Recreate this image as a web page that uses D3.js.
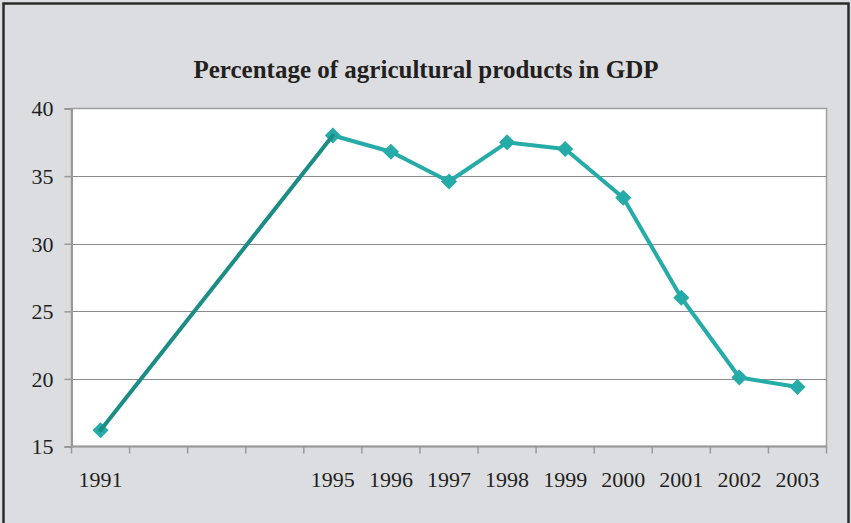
<!DOCTYPE html>
<html><head><meta charset="utf-8">
<script src="https://cdn.jsdelivr.net/npm/d3@7"></script>
<style>html,body{margin:0;padding:0;background:#fff;}svg{display:block;}</style>
</head><body>
<svg id="c" width="851" height="523"></svg>
<script>
const categories = ["1991","1992","1993","1994","1995","1996","1997","1998","1999","2000","2001","2002","2003"];
const tickLabels = ["1991","","","","1995","1996","1997","1998","1999","2000","2001","2002","2003"];
const years = ["1991","1995","1996","1997","1998","1999","2000","2001","2002","2003"];
const values = [16.2, 38.0, 36.8, 34.6, 37.5, 37.0, 33.4, 26.0, 20.1, 19.4];
const yTicks = [15, 20, 25, 30, 35, 40];
const title = "Percentage of agricultural products in GDP";

(function(){
const svg = d3.select("#c");
const W = 851, H = 523;
const FONT = "'Liberation Serif','Times New Roman',serif";
svg.append("rect").attr("x",0).attr("y",0).attr("width",W).attr("height",H).attr("fill","#dcdde0");
svg.append("path").attr("d",`M3.5,${H+2} V3.5 H848.5 V${H+2}`).attr("fill","none").attr("stroke","#2b2b2b").attr("stroke-width",2.5);

const pL = 71.5, pR = 826.5, pT = 108.5, pB = 446.5;
const x = d3.scaleBand().domain(categories).range([pL, pR]).padding(0);
const y = d3.scaleLinear().domain([15, 40]).range([pB, pT]);

svg.append("rect").attr("x",pL).attr("y",pT).attr("width",pR-pL).attr("height",pB-pT)
  .attr("fill","#fff").attr("stroke","#a0a0a0").attr("stroke-width",1.5);

svg.append("g").selectAll("line").data(yTicks.filter(v=>v>15 && v<40)).join("line")
  .attr("x1",pL).attr("x2",pR).attr("y1",d=>Math.round(y(d))+0.5).attr("y2",d=>Math.round(y(d))+0.5)
  .attr("stroke","#8a8a8a").attr("stroke-width",1.2);

const yAxis = d3.axisLeft(y).tickValues(yTicks).tickSize(7).tickPadding(11).tickFormat(d3.format("d"));
const gy = svg.append("g").attr("transform",`translate(${pL},0)`).call(yAxis);
gy.select(".domain").attr("stroke","#999").attr("stroke-width",2);
gy.selectAll(".tick line").attr("stroke","#999").attr("stroke-width",1.5);
gy.selectAll(".tick text").attr("font-family",FONT).attr("font-size",22).attr("fill","#231f20").attr("dy","0.34em");

const gx = svg.append("g").attr("transform",`translate(0,${pB})`);
gx.append("line").attr("x1",pL).attr("x2",pR).attr("stroke","#999").attr("stroke-width",2);
const bounds = categories.map(c=>x(c)).concat([pR]);
gx.selectAll("line.tk").data(bounds).join("line").attr("class","tk")
  .attr("x1",d=>d).attr("x2",d=>d).attr("y1",0).attr("y2",7).attr("stroke","#999").attr("stroke-width",1.5);
gx.selectAll("text").data(categories).join("text")
  .attr("x",d=>x(d)+x.bandwidth()/2).attr("y",40)
  .attr("text-anchor","middle").attr("font-family",FONT).attr("font-size",22).attr("fill","#231f20")
  .text((d,i)=>tickLabels[i]);

svg.append("text").attr("x",426).attr("y",78).attr("text-anchor","middle")
  .attr("font-family",FONT).attr("font-weight","bold").attr("font-size",25).attr("fill","#231f20")
  .text(title);

const pts = years.map((yr,i)=>[x(yr)+x.bandwidth()/2, y(values[i])]);
const line = d3.line();
svg.append("path").attr("d",line(pts.slice(1))).attr("fill","none").attr("stroke","#25aba8").attr("stroke-width",4).attr("stroke-linejoin","round");
svg.selectAll("path.mk").data(pts).join("path").attr("class","mk")
  .attr("d",d3.symbol(d3.symbolSquare, 130)())
  .attr("transform",d=>`translate(${d[0]},${d[1]}) rotate(45)`).attr("fill","#25aba8");
svg.append("path").attr("d",line(pts.slice(0,2))).attr("fill","none").attr("stroke","#1b8c86").attr("stroke-width",4).attr("stroke-linecap","round");
})();
</script>
</body></html>
